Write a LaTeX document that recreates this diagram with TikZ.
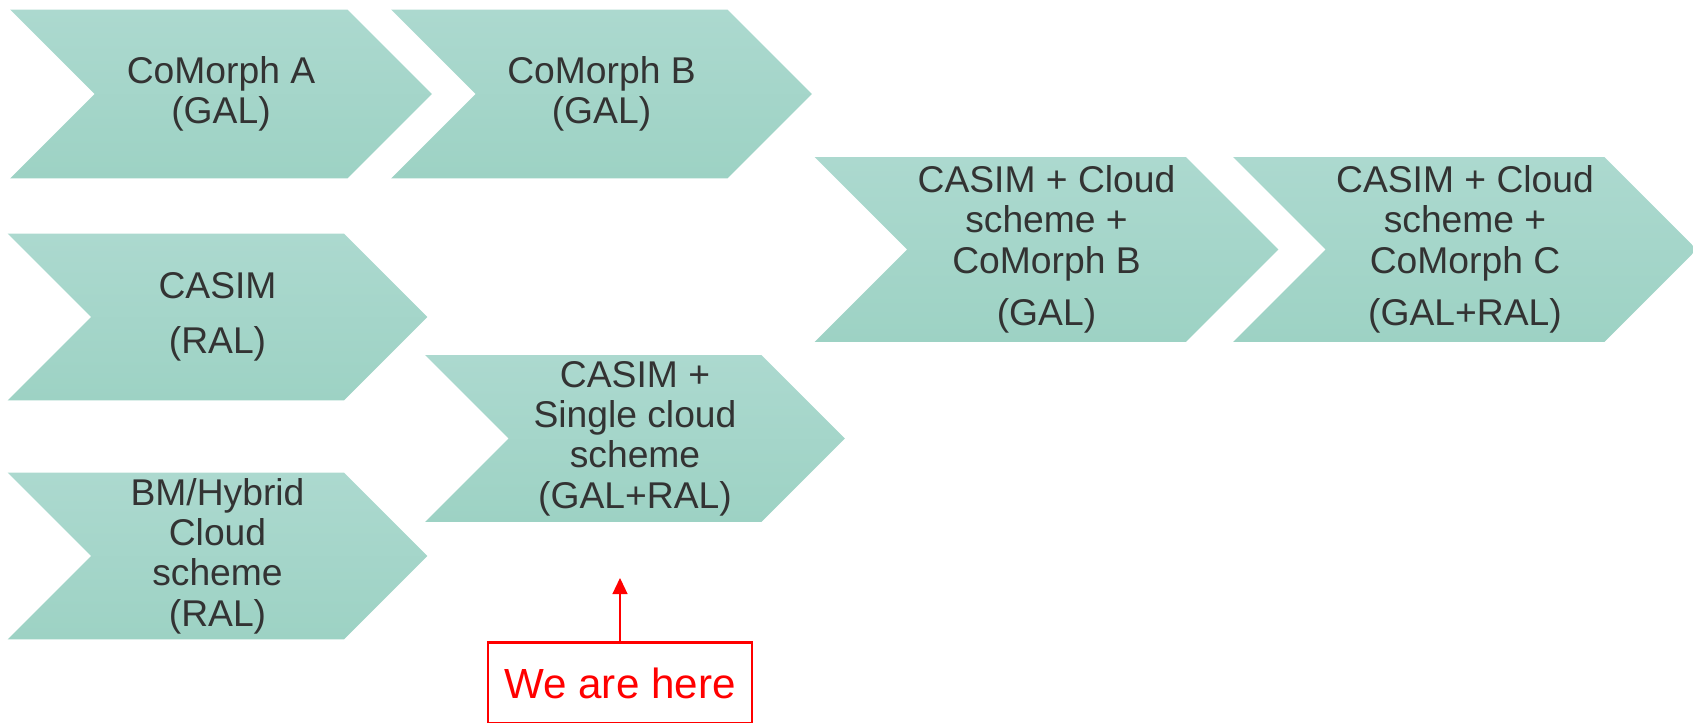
\documentclass[tikz,border=0pt]{standalone}
\usepackage{fontspec}
\setmainfont{Liberation Sans}
\usetikzlibrary{shapes.symbols,arrows.meta,positioning}
\definecolor{chevtop}{HTML}{ACD9CF}
\definecolor{chevbot}{HTML}{9DD2C4}
\definecolor{inktext}{HTML}{333333}

\begin{document}
\begin{tikzpicture}[x=0.02cm, y=-0.02cm,
  stage/.style={signal, signal from=west, signal to=east, draw=none,
    top color=chevtop, bottom color=chevbot, text=inktext, align=center,
    inner sep=0pt, minimum width=8.4cm, minimum height=3.34cm,
    font=\fontsize{21.2}{23}\selectfont},
  wide/.style={minimum width=9.28cm, minimum height=3.7cm},
  herebox/.style={rectangle, draw=red, line width=1.4pt, text=red,
    minimum width=5.28cm, minimum height=1.62cm, font=\fontsize{24}{28}\selectfont},
  pointer/.style={-{Triangle[length=0.32cm, width=0.3cm]}, red, line width=0.7pt}
]
\useasboundingbox (0,0) rectangle (1693,723);

% first row
\node[stage, minimum width=8.44cm, minimum height=3.38cm] (cma) at (221,94) {CoMorph A\\(GAL)};
\node[stage, minimum width=8.42cm, minimum height=3.38cm] (cmb) at (601.5,94) {CoMorph B\\(GAL)};

% microphysics and cloud schemes
\node[stage] (casim) at (217.5,317) {CASIM\\[0.28cm](RAL)};
\node[stage] (bm) at (217.5,556) {BM/Hybrid\\Cloud\\scheme\\(RAL)};
\node[stage] (single) at (635,438.5) {CASIM +\\Single cloud\\scheme\\(GAL+RAL)};

% combined configurations
\node[stage, wide] (combb) at (1046.5,249.5) {CASIM + Cloud\\scheme +\\CoMorph B\\[0.24cm](GAL)};
\node[stage, wide] (combc) at (1465,249.5) {CASIM + Cloud\\scheme +\\CoMorph C\\[0.24cm](GAL+RAL)};

% current position
\node[herebox] (here) at (620,683) {We are here};
\coordinate (mark) at (620,578);
\draw[pointer] (here.north) -- (mark);
\end{tikzpicture}
\end{document}
